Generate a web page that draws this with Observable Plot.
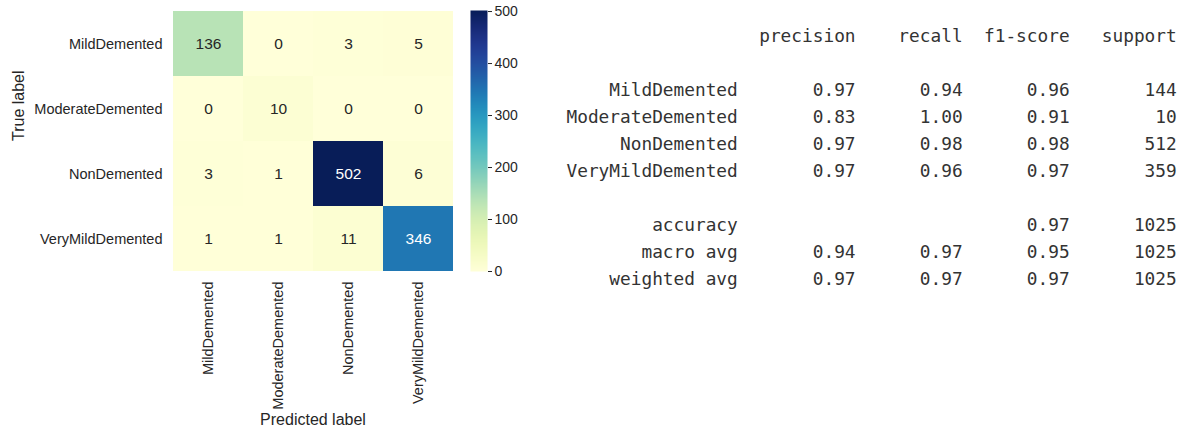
<!DOCTYPE html>
<html>
<head>
<meta charset="utf-8">
<script src="https://cdn.jsdelivr.net/npm/d3@7"></script>
<script src="https://cdn.jsdelivr.net/npm/@observablehq/plot@0.6"></script>
<style>
  html, body { margin: 0; padding: 0; background: #fff; }
  #wrap { position: relative; width: 1190px; height: 435px; overflow: hidden; }
  #wrap > div { position: absolute; top: 0; }
  #report text { white-space: pre; }
</style>
</head>
<body>
<div id="wrap">
  <div id="heat" style="left:0"></div>
  <div id="cbar" style="left:470px"></div>
  <div id="report" style="left:540px"></div>
</div>
<script>
// ---- data ----
const classes = ["MildDemented", "ModerateDemented", "NonDemented", "VeryMildDemented"];
// rows = true label, columns = predicted label
const matrix = [
  [136, 0, 3, 5],
  [0, 10, 0, 0],
  [3, 1, 502, 6],
  [1, 1, 11, 346]
];
const colorbarTicks = [0, 100, 200, 300, 400, 500];
const colorMax = 502;

const precision = [0.97, 0.83, 0.97, 0.97];
const recall    = [0.94, 1.00, 0.98, 0.96];
const f1        = [0.96, 0.91, 0.98, 0.97];
const support   = [144, 10, 512, 359];
const accuracy  = 0.97;
const totalSupport = 1025;
const macroAvg    = [0.94, 0.97, 0.95];
const weightedAvg = [0.97, 0.97, 0.97];

// ---- heatmap ----
const cells = [];
classes.forEach((t, i) => classes.forEach((p, j) => cells.push({true: t, pred: p, value: matrix[i][j]})));

const font = "'Liberation Sans', Arial, sans-serif";
const heat = Plot.plot({
  width: 460, height: 435,
  marginLeft: 172, marginRight: 7, marginTop: 10, marginBottom: 164,
  style: {fontFamily: font, fontSize: "14.5px", color: "#262626", background: "transparent"},
  x: {domain: classes, padding: 0, label: null},
  y: {domain: classes, padding: 0, label: null},
  color: {type: "linear", scheme: "YlGnBu", domain: [0, colorMax]},
  marks: [
    Plot.cell(cells, {x: "pred", y: "true", fill: "value", inset: 0}),
    Plot.text(cells, {x: "pred", y: "true", text: "value", fontSize: 15.5, fontFamily: font,
      fill: d => d.value > 250 ? "white" : "#262626"}),
    Plot.axisX({tickSize: 0, tickPadding: 10, tickRotate: -90, fontSize: 14.5, fontFamily: font, label: null}),
    Plot.axisY({tickSize: 0, tickPadding: 10, fontSize: 14.5, fontFamily: font, label: null}),
    Plot.text(["Predicted label"], {frameAnchor: "bottom", dy: 153, fontSize: 16, fontFamily: font, fill: "#262626"}),
    Plot.text(["True label"], {frameAnchor: "left", dx: -154, rotate: -90, fontSize: 16, fontFamily: font, fill: "#262626"})
  ]
});
document.getElementById("heat").appendChild(heat);

// ---- colorbar ----
const cbar = Plot.plot({
  width: 60, height: 435,
  marginLeft: 0, marginRight: 43, marginTop: 10, marginBottom: 164,
  style: {fontFamily: font, fontSize: "14px", color: "#262626", background: "transparent"},
  x: {domain: [0, 1], axis: null},
  y: {domain: [0, colorMax], label: null},
  color: {type: "linear", scheme: "YlGnBu", domain: [0, colorMax]},
  marks: [
    Plot.raster({x1: 0, x2: 1, y1: 0, y2: colorMax, width: 1, height: 260,
      fill: (x, y) => y, imageRendering: "auto"}),
    Plot.axisY(colorbarTicks, {anchor: "right", tickSize: 4, tickPadding: 3, fontSize: 14, fontFamily: font, label: null})
  ]
});
document.getElementById("cbar").appendChild(cbar);

// ---- classification report (sklearn text layout) ----
const W = 16;
const f2 = d3.format(".2f");
const pad = (s, n) => String(s).padStart(n, " ");
const lines = [];
lines.push(pad("", W) + " " + ["precision", "recall", "f1-score", "support"].map(h => " " + pad(h, 9)).join(""));
lines.push("");
classes.forEach((c, i) => {
  lines.push(pad(c, W) + " " + [precision[i], recall[i], f1[i]].map(v => " " + pad(f2(v), 9)).join("") + " " + pad(support[i], 9));
});
lines.push("");
lines.push(pad("accuracy", W) + " " + " " + pad("", 9) + " " + pad("", 9) + " " + pad(f2(accuracy), 9) + " " + pad(totalSupport, 9));
lines.push(pad("macro avg", W) + " " + macroAvg.map(v => " " + pad(f2(v), 9)).join("") + " " + pad(totalSupport, 9));
lines.push(pad("weighted avg", W) + " " + weightedAvg.map(v => " " + pad(f2(v), 9)).join("") + " " + pad(totalSupport, 9));
const rows = lines.map((text, i) => ({i, text}));

const report = Plot.plot({
  width: 650, height: 435,
  marginLeft: 26, marginRight: 0, marginTop: 33, marginBottom: 154,
  style: {background: "transparent"},
  x: {axis: null},
  y: {type: "point", domain: rows.map(d => d.i), axis: null, padding: 0},
  marks: [
    Plot.text(rows, {y: "i", text: "text", frameAnchor: "left", textAnchor: "start",
      fontFamily: "'DejaVu Sans Mono', 'Liberation Mono', monospace", fontSize: 17.8, fill: "#333"})
  ]
});
document.getElementById("report").appendChild(report);
</script>
</body>
</html>
